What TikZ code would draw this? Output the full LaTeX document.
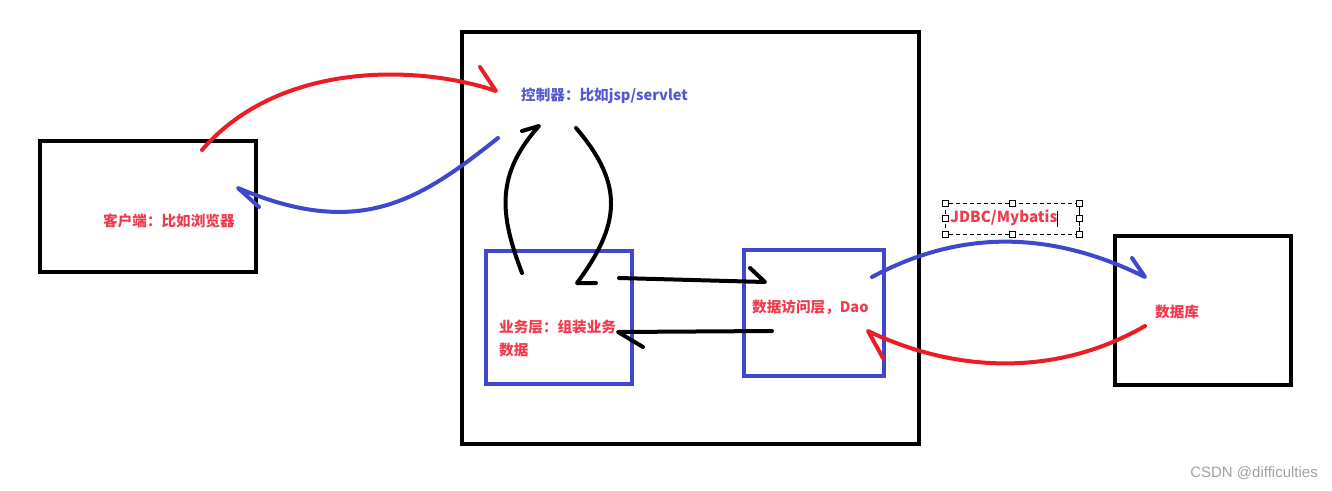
\documentclass[tikz,border=0pt]{standalone}
\usepackage{fontspec}
\newfontfamily\cjk{Noto Sans CJK SC}
\setsansfont{Liberation Sans}
\definecolor{pred}{HTML}{ED1C24}
\definecolor{pblue}{HTML}{3F48CC}
\definecolor{tred}{HTML}{EF3B4B}
\definecolor{tblue}{HTML}{5458D4}
\definecolor{wm}{HTML}{A0A0A0}
\tikzset{
  blackbox/.style={draw=black,line width=4pt},
  bluebox/.style={draw=pblue,line width=3.5pt},
  stroke/.style={line width=4pt,line cap=round,line join=round},
  lbl/.style={font=\cjk\bfseries\fontsize{14.6}{23}\selectfont,anchor=west,inner sep=0pt,align=left},
  handle/.style={draw=black,fill=white,line width=0.8pt,minimum size=6pt,inner sep=0pt,rectangle},
}
\begin{document}
\begin{tikzpicture}[x=1pt,y=-1pt]
\useasboundingbox (0,0) rectangle (1332,490);
% boxes
\node[blackbox,minimum width=216pt,minimum height=131pt,inner sep=0pt] (client) at (148,206.5) {};
\node[blackbox,minimum width=457pt,minimum height=412pt,inner sep=0pt] (server) at (690.5,238) {};
\node[bluebox,minimum width=146pt,minimum height=133pt,inner sep=0pt] (biz) at (559,317.5) {};
\node[bluebox,minimum width=140pt,minimum height=126pt,inner sep=0pt] (dao) at (814,313) {};
\node[blackbox,minimum width=176pt,minimum height=149pt,inner sep=0pt] (db) at (1203,310.5) {};
% labels
\node[lbl,text=tblue] (ctl) at (521,96) {控制器：比如jsp/servlet};
\node[lbl,text=tred] (clientlbl) at (103,221) {客户端：比如浏览器};
\node[lbl,text=tred,anchor=north west] (bizlbl) at (499,320) {业务层：组装业务\\数据};
\node[lbl,text=tred] (daolbl) at (752,307) {数据访问层，Dao};
\node[lbl,text=tred] (dblbl) at (1155,312) {数据库};
% JDBC selection box
\draw[black,line width=0.8pt,dash pattern=on 4pt off 3pt] (945,203) rectangle (1079,234);
\node[font=\cjk\bfseries\fontsize{15.2}{18}\selectfont,text=tred,anchor=west,inner sep=0pt] (jdbc) at (950,218) {JDBC/Mybatis};
\draw[black,line width=0.8pt] (1057,211) -- (1057,227);
\draw[black,line width=0.8pt] (1079,210) -- (1079,226);
\foreach \hx/\hy/\nm in {945/203/h1,1012/203/h2,1079/203/h3,945/218/h4,1079/218/h5,945/234/h6,1012/234/h7,1079/234/h8}
  \node[handle] (\nm) at (\hx,\hy) {};
% endpoints of connectors
\coordinate (a1s) at (202,150); \coordinate (a1t) at (496,91);
\coordinate (a2s) at (498,138); \coordinate (a2t) at (238,188);
\coordinate (a3s) at (522,273); \coordinate (a3t) at (539,126);
\coordinate (a4s) at (576,128); \coordinate (a4t) at (577,283);
\coordinate (a5s) at (619,278); \coordinate (a5t) at (765,282);
\coordinate (a6s) at (772,331); \coordinate (a6t) at (618,332);
\coordinate (a7s) at (872,277); \coordinate (a7t) at (1145,277);
\coordinate (a8s) at (1145,326); \coordinate (a8t) at (868,331);
% connectors
\draw[stroke,pred] (a1s) .. controls (280,60) and (420,65) .. (a1t) -- (480,67);
\draw[stroke,pblue] (a2s) .. controls (420,200) and (360,240) .. (a2t) -- (259,207);
\draw[stroke,black] (a3s) .. controls (500,215) and (495,175) .. (a3t) -- (522,131);
\draw[stroke,black] (a4s) .. controls (625,185) and (620,225) .. (a4t) -- (596,283);
\draw[stroke,black] (a5s) -- (a5t) -- (750,268);
\draw[stroke,black] (a6s) -- (a6t) -- (643,347);
\draw[stroke,pblue] (a7s) .. controls (950,235) and (1040,225) .. (a7t) -- (1132,258);
\draw[stroke,pred] (a8s) .. controls (1060,375) and (960,375) .. (a8t) -- (883,358);
% watermark
\node[font=\sffamily\fontsize{15}{18}\selectfont,text=wm,anchor=east,inner sep=0pt] (wmk) at (1318,473) {CSDN @difficulties};
\end{tikzpicture}
\end{document}
